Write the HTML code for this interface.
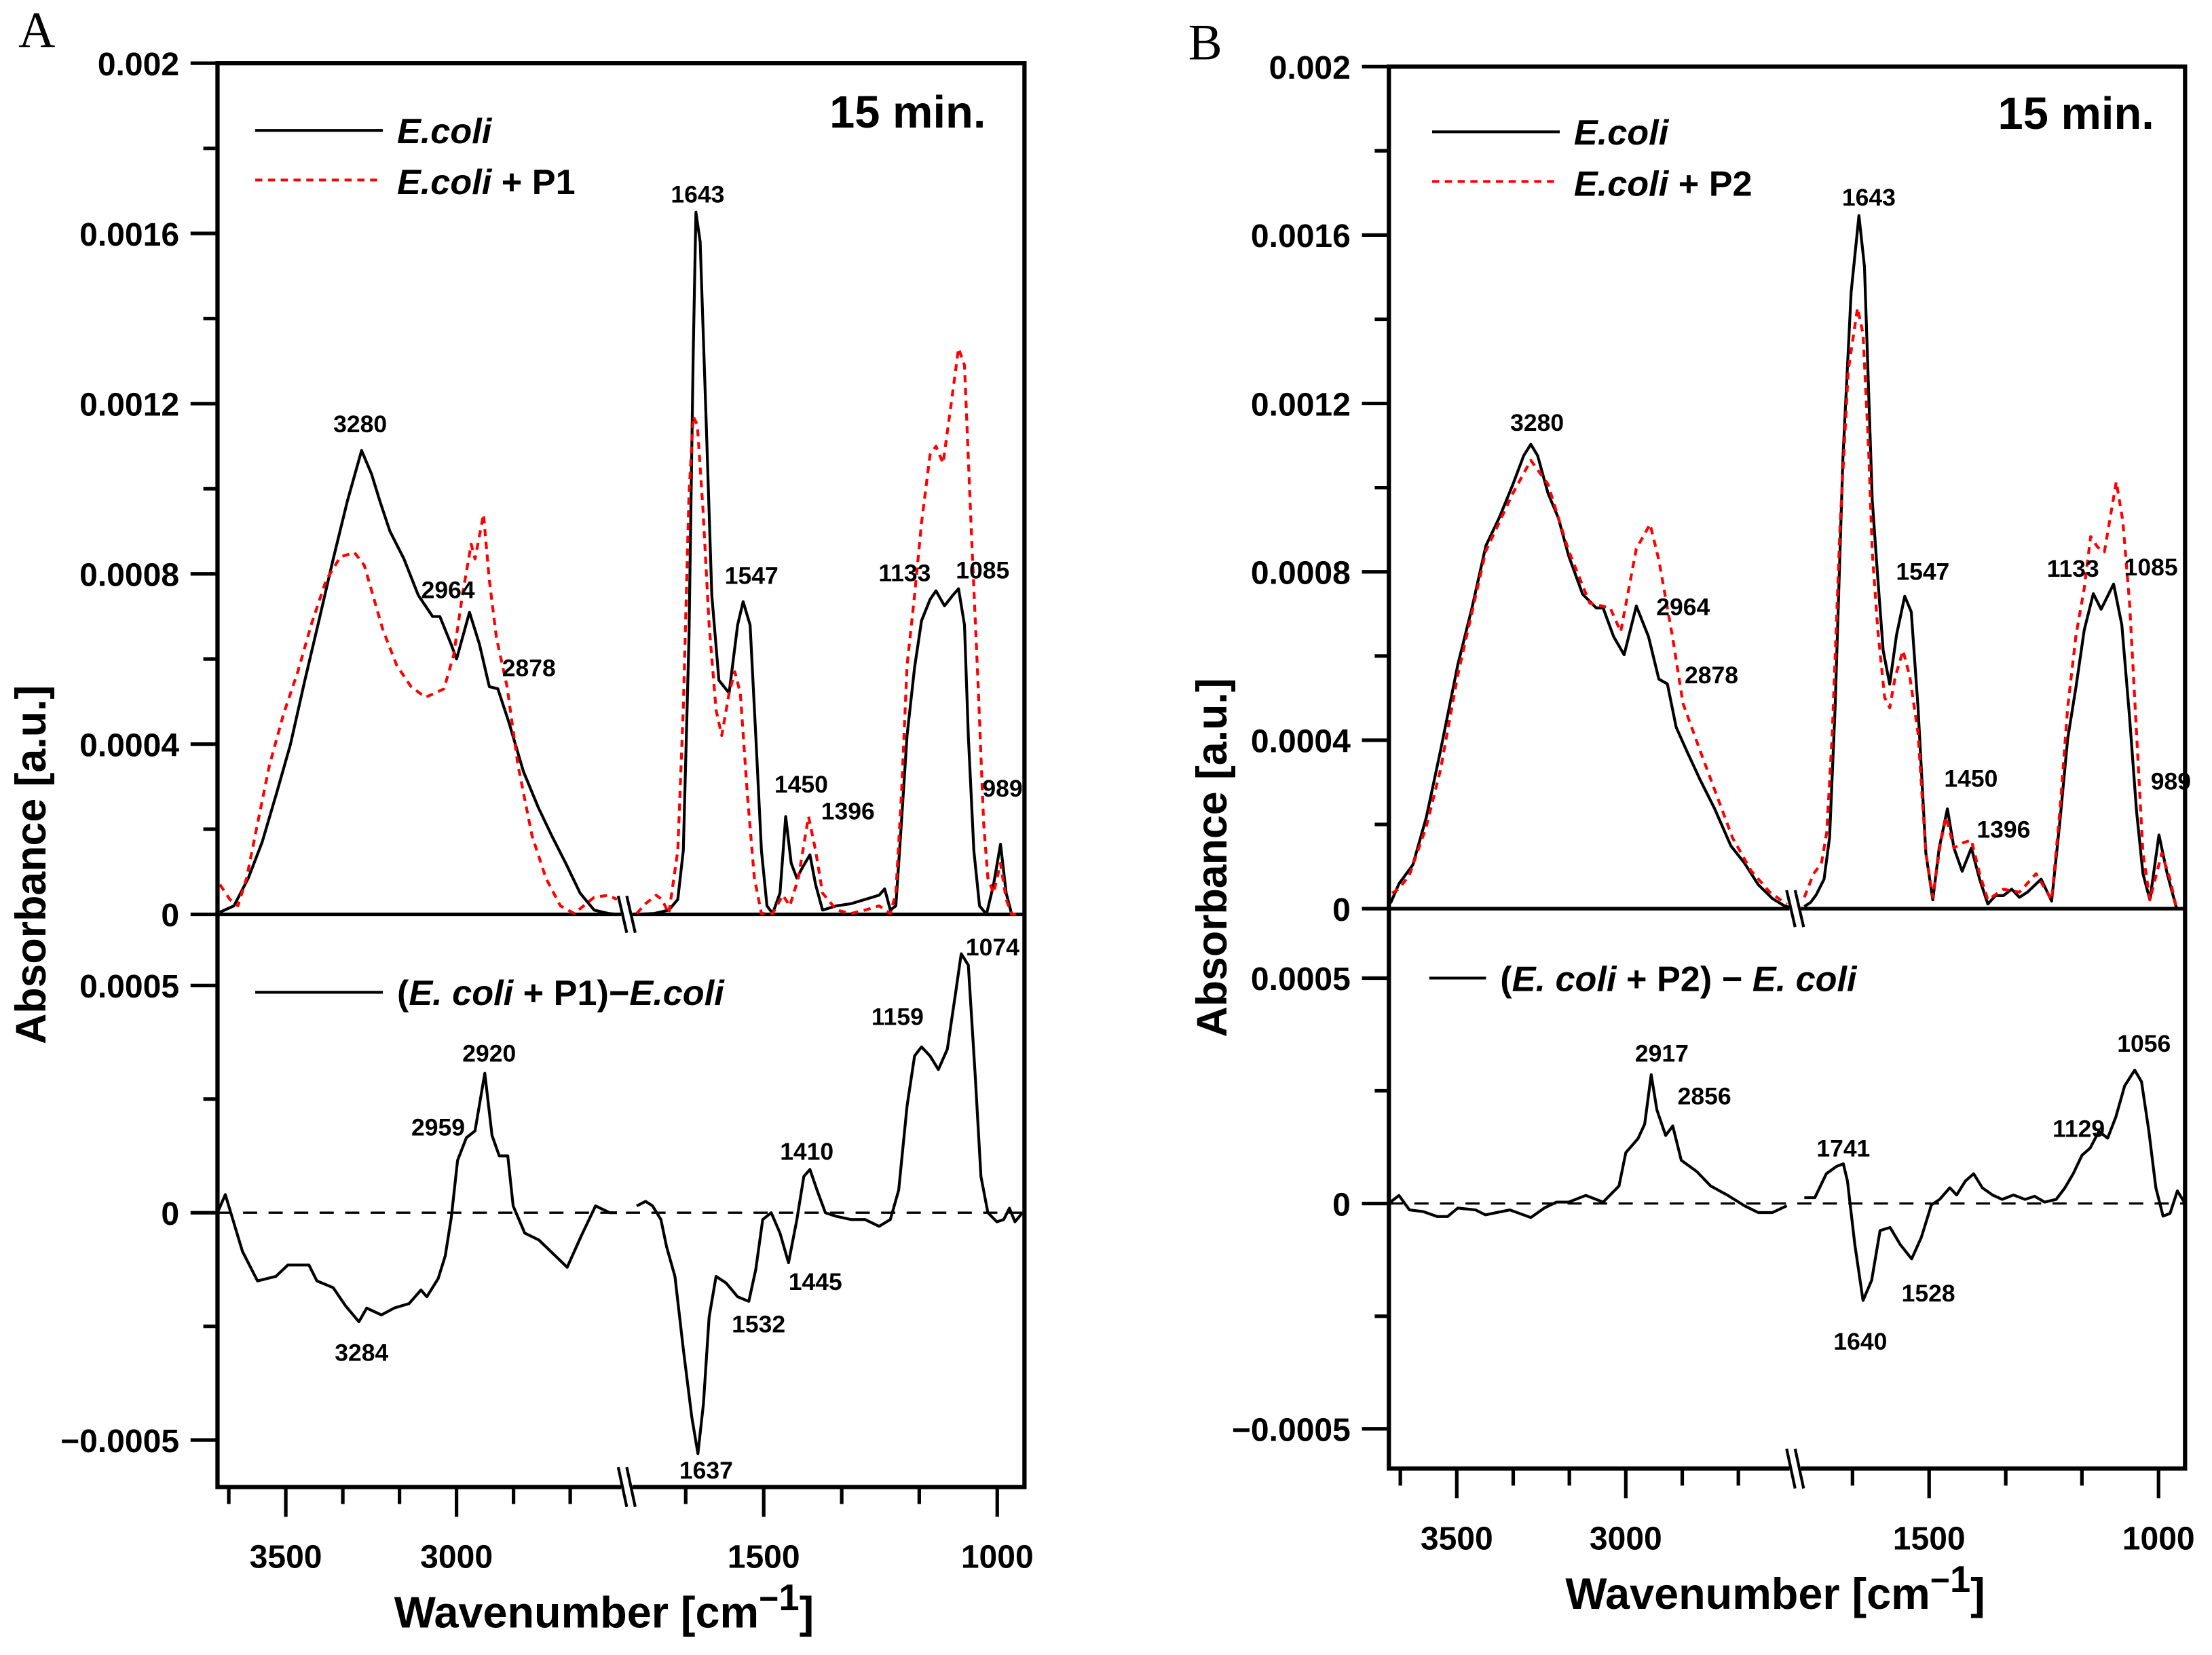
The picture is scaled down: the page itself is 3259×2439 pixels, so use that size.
<!DOCTYPE html>
<html><head><meta charset="utf-8">
<style>
html,body{margin:0;padding:0;background:#fff;}
svg{display:block;}
text{font-family:"Liberation Sans",Arial,sans-serif;font-weight:bold;fill:#000;}
</style></head>
<body>
<svg id="fig" width="3259" height="2439" viewBox="0 0 1560 1167.5" preserveAspectRatio="none" xmlns="http://www.w3.org/2000/svg">
<rect x="0" y="0" width="1560" height="1167.5" fill="#fff"/>
</svg>
<script>
// ---- data (absorbance in units of 1e-4) ----
const wnA_ecoli = [3693,3652,3610,3569,3527,3486,3444,3403,3361,3320,3278,3249,3224,3195,3154,3112,3070,3049,3016,3000,2962,2933,2904,2879,2846,2804,2760,2721,2680,2638,2597,2555,2530,
1772,1734,1703,1684,1672,1660,1651,1645,1636,1623,1611,1596,1574,1556,1544,1529,1517,1505,1493,1481,1465,1453,1441,1429,1417,1401,1389,1374,1344,1313,1283,1253,1241,1229,1217,1205,1193,1177,1162,1144,1131,1113,1095,1083,1070,1062,1050,1038,1023,1008,993,981,969,948];
const absA_ecoli = [0.05,0.2,0.85,1.7,2.85,4.0,5.5,6.9,8.35,9.7,10.9,10.35,9.7,9.0,8.35,7.5,7.0,7.0,6.35,6.0,7.1,6.35,5.35,5.3,4.5,3.35,2.5,1.85,1.2,0.5,0.1,0.02,0,
0,0.02,0.1,0.35,1.5,6.5,13.2,16.5,15.8,11.5,7.5,5.5,5.2,6.8,7.35,6.8,4.2,1.5,0.2,0.02,0.5,2.3,1.2,0.85,1.1,1.4,0.7,0.1,0.2,0.25,0.35,0.45,0.6,0.1,0.2,2.2,4.2,5.8,6.9,7.4,7.6,7.25,7.5,7.65,6.8,4.2,1.5,0.2,0.0,0.7,1.65,0.5,0.0,0.0];
const wnA_p1 = [3693,3664,3640,3615,3590,3548,3507,3465,3424,3382,3340,3299,3270,3245,3216,3175,3133,3091,3062,3037,3008,2983,2957,2946,2921,2904,2883,2852,2820,2779,2738,2696,2655,2597,2555,2530,
1772,1753,1730,1718,1703,1684,1672,1660,1651,1642,1630,1617,1602,1590,1574,1562,1550,1535,1520,1505,1481,1459,1444,1426,1404,1389,1374,1344,1313,1283,1253,1229,1217,1205,1193,1177,1162,1144,1131,1116,1101,1083,1070,1056,1041,1029,1020,1008,993,981,969,948];
const absA_p1 = [0.7,0.35,0.2,0.85,1.85,3.5,4.7,5.7,6.85,7.85,8.4,8.5,8.2,7.5,6.7,5.85,5.35,5.1,5.2,5.3,6.1,7.5,8.7,8.35,9.4,7.85,6.5,5.35,3.5,1.85,0.85,0.2,0.02,0.4,0.45,0.35,
0.02,0.25,0.45,0.35,0.02,1.5,4.85,9.85,11.7,11.5,9.5,6.8,4.8,4.2,5.2,5.7,5.2,2.8,0.85,0.02,0.02,0.45,0.2,0.85,2.3,1.5,0.5,0.1,0.02,0.1,0.2,0.02,0.5,2.85,5.85,7.5,9.2,10.8,11.0,10.6,11.8,13.3,12.9,9.1,5.4,2.15,0.85,0.5,1.2,0.35,0.0,0.0];
const wnA_diff = [3700,3677,3627,3583,3529,3494,3432,3409,3361,3325,3286,3263,3220,3183,3139,3104,3087,3054,3033,3015,2997,2971,2946,2917,2896,2875,2850,2834,2800,2759,2717,2676,2634,2593,2551,2530,
1772,1753,1738,1720,1708,1690,1672,1654,1641,1629,1617,1602,1580,1556,1532,1517,1502,1484,1465,1447,1429,1414,1401,1386,1368,1344,1313,1283,1253,1229,1211,1193,1177,1162,1144,1126,1107,1089,1077,1062,1047,1035,1020,1001,986,974,962,946];
const absA_diff = [0,0.4,-0.85,-1.5,-1.4,-1.15,-1.15,-1.5,-1.65,-2.05,-2.4,-2.1,-2.25,-2.1,-2.0,-1.7,-1.85,-1.45,-0.95,-0.1,1.15,1.65,1.8,3.07,1.7,1.25,1.25,0.15,-0.45,-0.6,-0.9,-1.2,-0.5,0.15,0,0,
0.15,0.25,0.15,-0.15,-0.75,-1.4,-3.0,-4.5,-5.3,-4.2,-2.3,-1.4,-1.55,-1.85,-1.95,-1.25,-0.15,0,-0.45,-1.1,-0.15,0.8,0.95,0.5,0,-0.08,-0.15,-0.15,-0.3,-0.15,0.5,2.35,3.45,3.65,3.45,3.15,3.6,4.85,5.7,5.45,3.0,0.8,0,-0.2,-0.15,0.1,-0.2,0];
const wnB_ecoli = [3696,3671,3630,3590,3548,3497,3455,3414,3374,3334,3302,3281,3261,3230,3200,3169,3128,3087,3067,3036,3005,2969,2933,2902,2877,2851,2820,2780,2738,2689,2649,2608,2566,2532,2503,
1772,1758,1746,1729,1717,1705,1688,1670,1653,1641,1624,1612,1600,1586,1571,1553,1539,1524,1507,1492,1478,1460,1446,1428,1408,1390,1372,1355,1338,1320,1303,1286,1256,1233,1215,1198,1180,1162,1142,1125,1098,1080,1063,1048,1034,1019,999,981,961];
const absB_ecoli = [0.13,0.59,1.04,2.17,3.75,5.79,7.14,8.62,9.29,10.08,10.76,11.03,10.76,9.87,9.29,8.38,7.47,7.14,7.14,6.46,6.03,7.19,6.46,5.45,5.34,4.31,3.75,3.06,2.39,1.49,1.08,0.57,0.24,0.07,0,
0.05,0.15,0.33,0.7,1.69,4.77,10.69,14.64,16.46,15.25,9.7,7.85,6.13,5.33,6.5,7.42,7.05,4.77,1.32,0.21,1.44,2.37,1.44,0.89,1.44,0.7,0.11,0.31,0.31,0.46,0.27,0.39,0.7,0.18,2.06,4.03,5.27,6.62,7.48,7.11,7.71,6.74,4.53,2.31,0.83,0.21,1.75,0.83,0.02];
const wnB_p2 = [3691,3671,3640,3590,3548,3497,3414,3334,3281,3230,3169,3107,3046,3015,2969,2928,2902,2862,2831,2780,2728,2684,2629,2575,2524,
1772,1752,1735,1723,1711,1694,1676,1656,1644,1632,1624,1612,1597,1586,1574,1557,1542,1524,1507,1492,1475,1463,1446,1425,1408,1390,1372,1338,1303,1267,1233,1215,1198,1180,1162,1148,1133,1118,1092,1078,1063,1048,1034,1019,993,975,961];
const absB_p2 = [0.37,0.47,0.8,1.95,3.3,5.55,8.5,9.87,10.65,10.08,8.5,7.26,7.14,6.58,8.55,9.13,8.28,6.46,4.88,3.75,2.63,1.68,0.9,0.4,0.1,
0.27,0.83,1.07,1.81,4.16,9.09,12.79,14.27,13.65,10.94,8.47,6.62,5.02,4.77,5.51,6.13,5.51,4.16,1.32,0.27,1.57,2.18,1.44,1.57,1.63,0.83,0.21,0.46,0.39,0.83,0.21,2.31,4.77,6.5,7.61,8.84,8.59,8.47,10.14,9.21,7.24,4.16,1.32,0.21,1.32,0.7,0.02];
const wnB_diff = [3700,3696,3671,3640,3599,3558,3527,3497,3445,3415,3343,3281,3241,3205,3169,3118,3067,3020,3000,2964,2944,2925,2908,2882,2861,2836,2790,2749,2698,2649,2608,2566,2524,
1772,1749,1724,1702,1687,1678,1662,1644,1625,1607,1585,1563,1538,1517,1495,1477,1455,1440,1421,1403,1384,1362,1341,1316,1291,1270,1248,1223,1204,1186,1167,1149,1130,1111,1093,1074,1052,1037,1021,1006,990,975,959,944];
const absB_diff = [0,0.03,0.18,-0.14,-0.18,-0.29,-0.29,-0.1,-0.14,-0.25,-0.14,-0.31,-0.1,0.03,0.03,0.18,0.03,0.39,1.13,1.44,1.76,2.86,2.08,1.51,1.72,0.96,0.71,0.39,0.18,-0.05,-0.2,-0.2,-0.05,
0.13,0.13,0.66,0.82,0.88,0.5,-0.91,-2.15,-1.7,-0.6,-0.53,-0.91,-1.23,-0.75,-0.03,0.09,0.35,0.19,0.5,0.66,0.35,0.19,0.09,0.19,0.09,0.16,0.03,0.09,0.35,0.66,1.07,1.23,1.6,1.45,1.92,2.61,2.96,2.7,1.6,0.35,-0.28,-0.22,0.28,0.03];
const xTickMajor = [3500,3000,1500,1000];
const xTickMinor = [3667,3333,3167,2833,2667,1667,1333,1167];
const yTickUpperLabels = ["0","0.0004","0.0008","0.0012","0.0016","0.002"];
const yTickUpperValues = [0,4,8,12,16,20];
const yTickLowerLabels = ["\u22120.0005","0","0.0005"];
const yTickLowerValues = [-5,0,5];
const peaksA_top = [["1643",492,143],["3280",254,305],["2964",316,422],["2878",373,477],["1547",530,412],["1133",638,410],["1085",693,408],["1450",565,559],["1396",598,578],["989",707,562]];
const peaksA_bot = [["1074",700,674],["1159",633,723],["2920",345,749],["2959",309,801],["1410",569,818],["1445",575,910],["1532",535,940],["3284",255,960],["1637",498,1043]];
const peaksB_top = [["1643",1318,145],["3280",1084,304],["2964",1187,434],["2878",1207,482],["1547",1356,409],["1133",1462,407],["1085",1517,406],["1450",1390,555],["1396",1413,591],["989",1531,557]];
const peaksB_bot = [["2917",1172,749],["2856",1202,779],["1741",1300,816],["1056",1512,742],["1129",1466,802],["1640",1312,952],["1528",1360,918]];

const NS = "http://www.w3.org/2000/svg";
const svg = document.getElementById('fig');
function el(tag, attrs, parent){
  const e = document.createElementNS(NS, tag);
  for (const k in attrs) e.setAttribute(k, attrs[k]);
  (parent||svg).appendChild(e);
  return e;
}

function panel(P){
  const g = el('g', {});
  
  
  const x = w => w >= 2000 ? P.x3700 + (3700 - w) * P.kL : P.x1500 + (1500 - w) * P.kR;
  const yU = v => P.zeroU - v * P.sU;
  const yL = v => P.zeroL - v * P.sL;

  function series(wn, vals, yf, stroke, dash, name){
    let d = '', prevLeft = null;
    const n = Math.min(wn.length, vals.length);
    for (let i = 0; i < n; i++){
      const left = wn[i] >= 2000;
      const cmd = (prevLeft === null || prevLeft !== left) ? 'M' : 'L';
      d += cmd + x(wn[i]).toFixed(1) + ',' + yf(vals[i]).toFixed(1) + ' ';
      prevLeft = left;
    }
    const p = el('path', {d: d, fill: 'none', stroke: stroke, 'stroke-width': 2, 'stroke-linejoin': 'round'}, g);
    if (dash) p.setAttribute('stroke-dasharray', dash);
    
    
  }
  const zl = el('line', {x1: P.boxL, x2: P.boxR, y1: P.zeroU, y2: P.zeroU, stroke: '#000', 'stroke-width': 2.5}, g);
  
  
  const dz = el('line', {x1: P.boxL, x2: P.boxR, y1: P.zeroL, y2: P.zeroL, stroke: '#000', 'stroke-width': 1.6, 'stroke-dasharray': '10 8'}, g);
  
  

  series(P.wnE, P.absE, yU, '#000', null, 'ecoli-spectrum');
  series(P.wnP, P.absP, yU, '#ff0000', '5 4', 'ecoli-peptide-spectrum');
  series(P.wnD, P.absD, yL, '#000', null, 'difference-spectrum');

  const fr = el('rect', {x: P.boxL, y: P.top, width: P.boxR - P.boxL, height: P.bottom - P.top, fill: 'none', stroke: '#000', 'stroke-width': 3}, g);
  
  

  for (let i = 0; i < yTickUpperValues.length; i++){
    const v = yTickUpperValues[i];
    el('line', {x1: P.boxL - 19, x2: P.boxL, y1: yU(v), y2: yU(v), stroke: '#000', 'stroke-width': 2.5}, g);
    if (i < yTickUpperValues.length - 1){
      const vm = v + 2;
      el('line', {x1: P.boxL - 10, x2: P.boxL, y1: yU(vm), y2: yU(vm), stroke: '#000', 'stroke-width': 2.5}, g);
    }
    const t = el('text', {x: P.boxL - 27, y: yU(v) + 8.5, 'font-size': 23, 'text-anchor': 'end'}, g);
    t.textContent = yTickUpperLabels[i];
    
    
  }
  for (let i = 0; i < yTickLowerValues.length; i++){
    const v = yTickLowerValues[i];
    el('line', {x1: P.boxL - 19, x2: P.boxL, y1: yL(v), y2: yL(v), stroke: '#000', 'stroke-width': 2.5}, g);
    if (i < yTickLowerValues.length - 1){
      const vm = v + 2.5;
      el('line', {x1: P.boxL - 10, x2: P.boxL, y1: yL(vm), y2: yL(vm), stroke: '#000', 'stroke-width': 2.5}, g);
    }
    const t = el('text', {x: P.boxL - 27, y: yL(v) + 8.5, 'font-size': 23, 'text-anchor': 'end'}, g);
    t.textContent = yTickLowerLabels[i];
    
    
  }
  for (let i = 0; i < xTickMajor.length; i++){
    const xx = x(xTickMajor[i]);
    el('line', {x1: xx, x2: xx, y1: P.bottom, y2: P.bottom + 21, stroke: '#000', 'stroke-width': 2.5}, g);
    const t = el('text', {x: xx, y: P.bottom + 57, 'font-size': 23, 'text-anchor': 'middle'}, g);
    t.textContent = String(xTickMajor[i]);
    
    
  }
  for (let i = 0; i < xTickMinor.length; i++){
    const xx = x(xTickMinor[i]);
    el('line', {x1: xx, x2: xx, y1: P.bottom, y2: P.bottom + 12, stroke: '#000', 'stroke-width': 2.5}, g);
  }
  [[P.bottom, 14], [P.zeroU, 13]].forEach(([yy, h]) => {
    const bx = P.breakX;
    el('rect', {x: bx - 3, y: yy - 3, width: 8, height: 6, fill: '#fff'}, g);
    const b1 = el('line', {x1: bx - 5, y1: yy - h, x2: bx + 1, y2: yy + h, stroke: '#000', 'stroke-width': 2}, g);
    
    
    el('line', {x1: bx + 1, y1: yy - h, x2: bx + 7, y2: yy + h, stroke: '#000', 'stroke-width': 2}, g);
  });
  const allPeaks = P.peaksTop.concat(P.peaksBot);
  for (const [lab, px, py] of allPeaks){
    const t = el('text', {x: px, y: py, 'font-size': 17, 'text-anchor': 'middle'}, g);
    t.textContent = lab;
    
    
  }
  const yt = el('text', {x: 0, y: 0, 'font-size': 30, 'text-anchor': 'middle', transform: `translate(${P.yTitleX},${P.yTitleY}) rotate(-90)`}, g);
  yt.textContent = 'Absorbance [a.u.]';
  
  
  const xt = el('text', {x: P.xTitleX, y: P.xTitleY, 'font-size': 31, 'text-anchor': 'middle'}, g);
  
  
  xt.innerHTML = 'Wavenumber [cm<tspan dy="-12" font-size="24">\u2212</tspan><tspan font-size="26">1</tspan><tspan dy="12">]</tspan>';
  const pl = el('text', {x: P.letterX, y: P.letterY, 'font-size': 36, style: 'font-family:"Liberation Serif",serif;font-weight:normal'}, g);
  pl.textContent = P.letter;
  
  
  const tm = el('text', {x: P.timeX, y: P.timeY, 'font-size': 32}, g);
  tm.textContent = '15 min.';
  
  
  const lg = el('g', {}, g);
  
  
  el('line', {x1: P.legX, x2: P.legX + 90, y1: P.legY1, y2: P.legY1, stroke: '#000', 'stroke-width': 2}, lg);
  el('line', {x1: P.legX, x2: P.legX + 90, y1: P.legY2, y2: P.legY2, stroke: '#ff0000', 'stroke-width': 2, 'stroke-dasharray': '5 4'}, lg);
  const t1 = el('text', {x: P.legX + 100, y: P.legY1 + 9, 'font-size': 25, 'font-style': 'italic'}, lg);
  t1.textContent = 'E.coli';
  
  
  const t2 = el('text', {x: P.legX + 100, y: P.legY2 + 10, 'font-size': 25}, lg);
  t2.innerHTML = '<tspan font-style="italic">E.coli</tspan> + ' + P.pep;
  
  
  el('line', {x1: P.leg3X, x2: P.leg3X + P.leg3W, y1: P.legY3, y2: P.legY3, stroke: '#000', 'stroke-width': 2}, lg);
  const t3 = el('text', {x: P.leg3X + P.leg3W + 10, y: P.legY3 + 9, 'font-size': 25}, lg);
  t3.innerHTML = P.diffText;
  
  
}

panel({name: 'panel-a', letter: 'A', letterX: 13, letterY: 33,
  boxL: 153.4, boxR: 722.5, top: 44.6, bottom: 1049, zeroU: 645, sU: 30.02, zeroL: 855.5, sL: 32.06,
  x3700: 153.4, kL: 0.2408, x1500: 538.6, kR: 0.3294, breakX: 441,
  wnE: wnA_ecoli, absE: absA_ecoli, wnP: wnA_p1, absP: absA_p1, wnD: wnA_diff, absD: absA_diff,
  peaksTop: peaksA_top, peaksBot: peaksA_bot,
  yTitleX: 32, yTitleY: 610, xTitleX: 426, xTitleY: 1148,
  timeX: 585, timeY: 90, legX: 180, legY1: 92, legY2: 127, pep: 'P1',
  leg3X: 180, leg3W: 90, legY3: 700,
  diffText: '(<tspan font-style="italic">E. coli</tspan> + P1)\u2212<tspan font-style="italic">E.coli</tspan>'});
panel({name: 'panel-b', letter: 'B', letterX: 838, letterY: 42,
  boxL: 979.5, boxR: 1541, top: 47, bottom: 1036, zeroU: 641, sU: 29.7, zeroL: 849, sL: 31.8,
  x3700: 979.7, kL: 0.2384, x1500: 1360.5, kR: 0.3236, breakX: 1265,
  wnE: wnB_ecoli, absE: absB_ecoli, wnP: wnB_p2, absP: absB_p2, wnD: wnB_diff, absD: absB_diff,
  peaksTop: peaksB_top, peaksBot: peaksB_bot,
  yTitleX: 865, yTitleY: 605, xTitleX: 1252, xTitleY: 1135,
  timeX: 1409, timeY: 91, legX: 1010, legY1: 93, legY2: 128, pep: 'P2',
  leg3X: 1008, leg3W: 40, legY3: 690,
  diffText: '(<tspan font-style="italic">E. coli</tspan> + P2) \u2212 <tspan font-style="italic">E. coli</tspan>'});
</script>
</body></html>
